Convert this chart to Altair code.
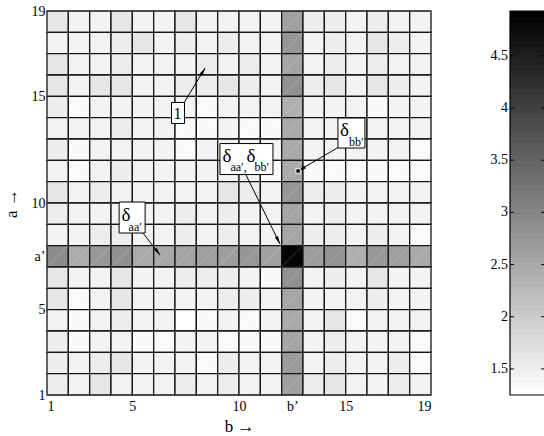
import altair as alt
import pandas as pd
import numpy as np

SERIF = "Liberation Serif"

# axis ticks / labels
b_ticks = [1, 5, 10, 12.5, 15, 19]
a_ticks = [1, 5, 7.5, 10, 15, 19]
cbar_ticks = [1.5, 2, 2.5, 3, 3.5, 4, 4.5]
cbar_labels = ["1.5", "2", "2.5", "3", "3.5", "4", "4.5"]
cmin, cmax = 1.25, 4.93

# cell values, one list per row, from the top row (a = 18) down to a = 1; b = 1..18
row18 = [1.61, 1.42, 1.42, 1.61, 1.42, 1.42, 1.61, 1.42, 1.42, 1.42, 1.42, 2.62, 1.51, 1.51, 1.42, 1.51, 1.42, 1.42]
row17 = [1.42, 1.42, 1.42, 1.51, 1.61, 1.42, 1.51, 1.42, 1.51, 1.42, 1.42, 2.77, 1.42, 1.51, 1.42, 1.61, 1.51, 1.42]
row16 = [1.61, 1.42, 1.42, 1.51, 1.42, 1.42, 1.42, 1.51, 1.42, 1.51, 1.42, 2.55, 1.42, 1.51, 1.42, 1.51, 1.42, 1.42]
row15 = [1.61, 1.42, 1.61, 1.61, 1.42, 1.42, 1.51, 1.51, 1.61, 1.51, 1.42, 2.84, 1.51, 1.61, 1.42, 1.61, 1.51, 1.42]
row14 = [1.51, 1.32, 1.42, 1.42, 1.42, 1.42, 1.42, 1.32, 1.42, 1.42, 1.42, 2.40, 1.42, 1.42, 1.42, 1.32, 1.42, 1.42]
row13 = [1.42, 1.42, 1.42, 1.51, 1.42, 1.42, 1.32, 1.32, 1.42, 1.32, 1.32, 2.48, 1.42, 1.42, 1.42, 1.42, 1.42, 1.42]
row12 = [1.51, 1.32, 1.42, 1.42, 1.42, 1.42, 1.32, 1.42, 1.42, 1.42, 1.42, 2.48, 1.42, 1.42, 1.42, 1.42, 1.42, 1.32]
row11 = [1.42, 1.32, 1.42, 1.51, 1.42, 1.42, 1.42, 1.42, 1.42, 1.42, 1.32, 2.48, 1.32, 1.32, 1.32, 1.32, 1.32, 1.32]
row10 = [1.61, 1.42, 1.51, 1.42, 1.42, 1.42, 1.42, 1.42, 1.61, 1.51, 1.42, 2.77, 1.51, 1.51, 1.42, 1.42, 1.42, 1.42]
row9 = [1.51, 1.42, 1.42, 1.42, 1.42, 1.42, 1.51, 1.42, 1.51, 1.42, 1.42, 2.55, 1.42, 1.51, 1.42, 1.42, 1.42, 1.42]
row8 = [1.42, 1.42, 1.51, 1.51, 1.42, 1.42, 1.51, 1.42, 1.51, 1.42, 1.42, 2.55, 1.51, 1.51, 1.42, 1.51, 1.42, 1.32]
row7 = [2.91, 2.45, 2.74, 2.84, 2.48, 2.51, 2.55, 2.62, 2.65, 2.77, 2.59, 4.88, 2.66, 2.81, 2.40, 2.74, 2.62, 2.48]
row6 = [1.61, 1.42, 1.42, 1.61, 1.42, 1.42, 1.51, 1.51, 1.51, 1.42, 1.32, 2.84, 1.42, 1.51, 1.42, 1.61, 1.42, 1.42]
row5 = [1.61, 1.32, 1.42, 1.61, 1.42, 1.42, 1.42, 1.42, 1.51, 1.51, 1.42, 2.55, 1.42, 1.42, 1.42, 1.51, 1.42, 1.42]
row4 = [1.42, 1.32, 1.42, 1.51, 1.42, 1.42, 1.25, 1.32, 1.42, 1.32, 1.42, 2.48, 1.42, 1.61, 1.32, 1.42, 1.42, 1.42]
row3 = [1.51, 1.32, 1.42, 1.42, 1.32, 1.32, 1.42, 1.42, 1.32, 1.32, 1.32, 2.55, 1.42, 1.51, 1.42, 1.42, 1.42, 1.32]
row2 = [1.51, 1.42, 1.51, 1.61, 1.42, 1.42, 1.42, 1.32, 1.51, 1.42, 1.42, 2.69, 1.42, 1.51, 1.42, 1.42, 1.51, 1.32]
row1 = [1.51, 1.42, 1.61, 1.42, 1.42, 1.42, 1.51, 1.42, 1.51, 1.42, 1.42, 2.62, 1.51, 1.61, 1.42, 1.42, 1.51, 1.42]
grid_rows = [row18, row17, row16, row15, row14, row13, row12, row11, row10,
             row9, row8, row7, row6, row5, row4, row3, row2, row1]

# annotation anchors (data coordinates) and arrows
ann_x = [7.14, 4.99, 10.35, 15.27]
ann_y = [14.22, 9.32, 12.06, 13.28]
arrow_x = [7.42, 5.50, 10.33, 14.69]
arrow_y = [14.69, 8.59, 11.31, 12.63]
arrow_x2 = [8.41, 6.30, 11.92, 12.77]
arrow_y2 = [16.33, 7.56, 8.08, 11.50]

recs = []
for i, vals in enumerate(grid_rows):
    a = 18 - i
    for j, v in enumerate(vals):
        recs.append({"b": j + 1, "b2": j + 2, "a": a, "a2": a + 1, "v": v})
df = pd.DataFrame(recs)

xs = alt.Scale(domain=[1, 19], nice=False, zero=False)
ys = alt.Scale(domain=[1, 19], nice=False, zero=False)
cscale = alt.Scale(domain=[cmin, cmax], range=["#ffffff", "#000000"], interpolate="rgb")

heat = alt.Chart(df).mark_rect(stroke="#151515", strokeWidth=1.3).encode(
    x=alt.X("b:Q", scale=xs, axis=alt.Axis(
        values=b_ticks, labelExpr="datum.value == 12.5 ? 'b’' : format(datum.value, '~g')",
        title="b →", grid=False, ticks=False, domain=False, labelPadding=4,
        titlePadding=5, labelOverlap=False)),
    x2="b2:Q",
    y=alt.Y("a:Q", scale=ys, axis=alt.Axis(
        values=a_ticks, labelExpr="datum.value == 7.5 ? 'a’' : format(datum.value, '~g')",
        title="a →", grid=False, ticks=False, domain=False, labelPadding=2,
        titlePadding=11, labelOverlap=False)),
    y2="a2:Q",
    color=alt.Color("v:Q", scale=cscale, legend=None),
)

diag = alt.Chart(df).mark_rule(color="white", opacity=0.3, strokeWidth=0.7).encode(
    x=alt.X("b:Q", scale=xs), y=alt.Y("a:Q", scale=ys), x2="b2:Q", y2="a2:Q"
)

arr = pd.DataFrame({"x": arrow_x, "y": arrow_y, "x2": arrow_x2, "y2": arrow_y2})
arr["ang"] = (np.degrees(np.arctan2(arr["x2"] - arr["x"], arr["y2"] - arr["y"]))) % 360

lines = alt.Chart(arr).mark_rule(color="black", strokeWidth=1).encode(
    x=alt.X("x:Q", scale=xs), y=alt.Y("y:Q", scale=ys), x2="x2:Q", y2="y2:Q"
)
heads = alt.Chart(arr).mark_point(
    shape="M0,0L-0.45,2L0.45,2Z", size=64, filled=True, color="black", opacity=1
).encode(
    x=alt.X("x2:Q", scale=xs), y=alt.Y("y2:Q", scale=ys), angle=alt.Angle("ang:Q", scale=None)
)
marker = alt.Chart(arr.iloc[[3]]).mark_square(
    size=20, filled=True, fill="black", stroke="white", strokeWidth=1, opacity=1
).encode(x=alt.X("x2:Q", scale=xs), y=alt.Y("y2:Q", scale=ys))

box_dims = [(13, 21), (26, 31), (53, 31), (27, 30)]


def box(k):
    w, h = box_dims[k]
    r = w / h
    path = f"M{-r},-1H{r}V1H{-r}Z"
    d = pd.DataFrame({"x": [ann_x[k]], "y": [ann_y[k]]})
    return alt.Chart(d).mark_point(
        shape=path, size=h * h, filled=True, fill="white", stroke="black",
        strokeWidth=1, opacity=1, fillOpacity=1,
    ).encode(x=alt.X("x:Q", scale=xs), y=alt.Y("y:Q", scale=ys))


def piece(k, txt, dx, dy, fs):
    d = pd.DataFrame({"x": [ann_x[k]], "y": [ann_y[k]], "t": [txt]})
    return alt.Chart(d).mark_text(
        align="left", baseline="alphabetic", dx=dx, dy=dy, fontSize=fs,
        font=SERIF, color="black",
    ).encode(x=alt.X("x:Q", scale=xs), y=alt.Y("y:Q", scale=ys), text="t:N")


texts = [
    piece(0, "1", -4.5, 6.5, 16),
    piece(1, "δ", -10.5, 3.5, 19),
    piece(1, "aa′", -3.5, 13, 12),
    piece(2, "δ", -24, 2.5, 19),
    piece(2, "aa′,", -16, 11.5, 12),
    piece(2, "δ", 0, 2.5, 19),
    piece(2, "bb′", 8, 11.5, 12),
    piece(3, "δ", -11.5, 2.5, 19),
    piece(3, "bb′", -2.5, 12.5, 12),
]

main = alt.layer(heat, diag, lines, heads, marker, *[box(k) for k in range(4)], *texts)

# colour bar (64 steps like the gray colormap)
edges = np.linspace(cmin, cmax, 65)
cb_df = pd.DataFrame({"lo": edges[:-1], "hi": edges[1:], "v": (edges[:-1] + edges[1:]) / 2,
                      "c0": 0.0, "c1": 1.0})
cbx = alt.Scale(domain=[0, 1], range=[463, 498])
cby = alt.Scale(domain=[cmin, cmax], nice=False, zero=False)

cb = alt.Chart(cb_df).mark_rect().encode(
    x=alt.X("c0:Q", scale=cbx, axis=None), x2="c1:Q",
    y=alt.Y("lo:Q", scale=cby, axis=None), y2="hi:Q",
    color=alt.Color("v:Q", scale=cscale, legend=None),
)
tk = pd.DataFrame({"t": cbar_ticks, "lab": cbar_labels})
tk_l = alt.Chart(tk).transform_calculate(a="0", b="0.11").mark_rule(color="black", strokeWidth=1).encode(
    x=alt.X("a:Q", scale=cbx, axis=None), x2="b:Q", y=alt.Y("t:Q", scale=cby, axis=None)
)
tk_r = alt.Chart(tk).transform_calculate(a="0.89", b="1").mark_rule(color="black", strokeWidth=1).encode(
    x=alt.X("a:Q", scale=cbx, axis=None), x2="b:Q", y=alt.Y("t:Q", scale=cby, axis=None)
)
tk_txt = alt.Chart(tk).transform_calculate(a="0").mark_text(
    align="right", baseline="middle", dx=-2, font=SERIF, fontSize=14, color="black"
).encode(x=alt.X("a:Q", scale=cbx, axis=None), y=alt.Y("t:Q", scale=cby, axis=None), text="lab:N")
frame = alt.Chart(pd.DataFrame({"lo": [cmin], "hi": [cmax], "c0": [0.0], "c1": [1.0]})).mark_rect(
    fill=None, stroke="black", strokeWidth=1.2
).encode(x=alt.X("c0:Q", scale=cbx, axis=None), x2="c1:Q",
         y=alt.Y("lo:Q", scale=cby, axis=None), y2="hi:Q")

cbar = alt.layer(cb, tk_l, tk_r, tk_txt, frame)

chart = alt.layer(main, cbar).resolve_scale(x="independent", y="independent").properties(
    width=384, height=384,
    autosize=alt.AutoSizeParams(type="none"),
    padding={"left": 47, "top": 11, "right": 113, "bottom": 41},
    background="white",
).configure_axis(
    labelFont=SERIF, titleFont=SERIF, labelFontSize=14, titleFontSize=17,
    labelColor="black", titleColor="black", titleFontWeight="normal",
).configure_view(stroke=None)

chart.save("out.html", embed_options={"renderer": "svg", "actions": False})
